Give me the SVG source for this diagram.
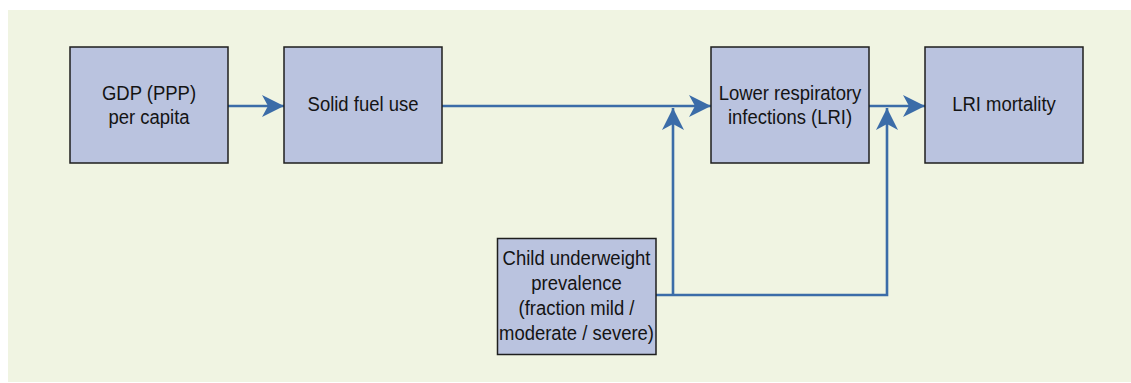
<svg xmlns="http://www.w3.org/2000/svg" width="1131" height="383" viewBox="0 0 1131 383">
  <style>
    .box { fill: #bac3df; stroke: #1e1e1e; stroke-width: 1.5; }
    .lbl { font-family: "Liberation Sans", Arial, sans-serif; font-size: 21px; fill: #141414; text-anchor: middle; }
    .wire { fill: none; stroke: #3b6ca8; stroke-width: 2.6; stroke-linejoin: miter; }
  </style>
  <defs>
    <marker id="head" markerUnits="userSpaceOnUse" markerWidth="26" markerHeight="26" viewBox="-24 -13 26 26" refX="0" refY="0" orient="auto">
      <path d="M0,0 L-22,-11 L-16,0 L-22,11 Z" fill="#3b6ca8"/>
    </marker>
  </defs>

  <!-- panel background -->
  <rect x="8" y="10" width="1123" height="372" fill="#f0f4e2"/>

  <!-- connectors -->
  <g id="connectors">
    <line class="wire" x1="228" y1="106" x2="284" y2="106" marker-end="url(#head)"/>
    <line class="wire" x1="442" y1="106" x2="711" y2="106" marker-end="url(#head)"/>
    <line class="wire" x1="869" y1="106" x2="925" y2="106" marker-end="url(#head)"/>
    <polyline class="wire" points="656,295 887,295 887,108" marker-end="url(#head)"/>
    <line class="wire" x1="673" y1="295" x2="673" y2="108" marker-end="url(#head)"/>
  </g>

  <!-- labels use a narrowed face: each label group is centred at x=0 and squeezed horizontally -->
  <g id="gdp">
    <rect class="box" x="70" y="47" width="158" height="116"/>
    <g transform="translate(149,0) scale(0.88,1)">
      <text class="lbl" x="0" y="100">GDP (PPP)</text>
      <text class="lbl" x="0" y="124">per capita</text>
    </g>
  </g>

  <g id="solid-fuel">
    <rect class="box" x="284" y="47" width="158" height="116"/>
    <g transform="translate(363,0) scale(0.88,1)">
      <text class="lbl" x="0" y="111.5">Solid fuel use</text>
    </g>
  </g>

  <g id="lri">
    <rect class="box" x="711" y="47" width="158" height="116"/>
    <g transform="translate(790,0) scale(0.88,1)">
      <text class="lbl" x="0" y="100">Lower respiratory</text>
      <text class="lbl" x="0" y="124.5">infections (LRI)</text>
    </g>
  </g>

  <g id="lri-mortality">
    <rect class="box" x="925" y="47" width="158" height="116"/>
    <g transform="translate(1004,0) scale(0.88,1)">
      <text class="lbl" x="0" y="111.5">LRI mortality</text>
    </g>
  </g>

  <g id="underweight">
    <rect class="box" x="497.5" y="238.5" width="158.5" height="116"/>
    <g transform="translate(576.5,0) scale(0.88,1)">
      <text class="lbl" x="0" y="265">Child underweight</text>
      <text class="lbl" x="0" y="290">prevalence</text>
      <text class="lbl" x="0" y="315.5">(fraction mild /</text>
      <text class="lbl" x="0" y="340.5">moderate / severe)</text>
    </g>
  </g>
</svg>
